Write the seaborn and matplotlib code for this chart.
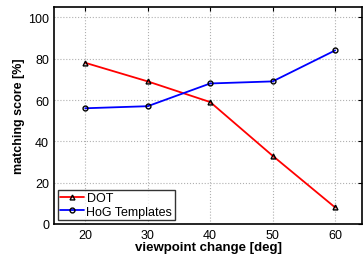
import matplotlib
matplotlib.use("Agg")
import matplotlib.pyplot as plt
import seaborn as sns
import pandas as pd

viewpoint = [20, 30, 40, 50, 60]
dot_scores = [78, 69, 59, 33, 8]
hog_scores = [56, 57, 68, 69, 84]
series_names = ["DOT", "HoG Templates"]

df = pd.DataFrame({
    "viewpoint": viewpoint * 2,
    "score": dot_scores + hog_scores,
    "method": [series_names[0]] * 5 + [series_names[1]] * 5,
})

sns.set_style("white")
plt.rcParams["font.family"] = ["Liberation Sans", "DejaVu Sans"]
plt.rcParams["text.color"] = "black"
plt.rcParams["axes.labelcolor"] = "black"
plt.rcParams["xtick.color"] = "black"
plt.rcParams["ytick.color"] = "black"

fig = plt.figure(figsize=(3.63, 2.55), dpi=100)
ax = fig.add_axes([54/363, 30/255, (362-54)/363, (225-8)/255])

sns.lineplot(data=df, x="viewpoint", y="score", hue="method", style="method",
             palette={"DOT": "#ff0000", "HoG Templates": "#0000ff"},
             markers={"DOT": "^", "HoG Templates": "o"}, dashes=False,
             markersize=3.5, markeredgecolor="black", markerfacecolor="none",
             markeredgewidth=1.0, linewidth=1.3, ax=ax)

ax.set_xlim(15, 64.3)
ax.set_ylim(0, 105)
ax.set_xticks(viewpoint)
ax.set_yticks([0, 20, 40, 60, 80, 100])
ax.grid(True, linestyle=":", color="#b0b0b0", linewidth=0.8)
ax.tick_params(direction="in", length=3, labelsize=9, top=True, right=True, color="black")
for s in ax.spines.values():
    s.set_color("black")
    s.set_linewidth(1.2)
ax.set_xlabel("viewpoint change [deg]", fontsize=9.5, fontweight="bold", labelpad=0)
ax.set_ylabel("matching score [%]", fontsize=9, fontweight="bold", labelpad=2)

handles, labels = ax.get_legend_handles_labels()
for h in handles:
    h.set_markerfacecolor("none")
    h.set_markeredgecolor("black")
leg = ax.legend(handles, labels, loc="lower left", fontsize=9, frameon=True,
                fancybox=False, edgecolor="black", borderaxespad=0.3,
                handlelength=1.9, handletextpad=0.2, borderpad=0.2, labelspacing=0.1)
leg.get_frame().set_linewidth(1.0)

fig.savefig("out.png", dpi=100)
